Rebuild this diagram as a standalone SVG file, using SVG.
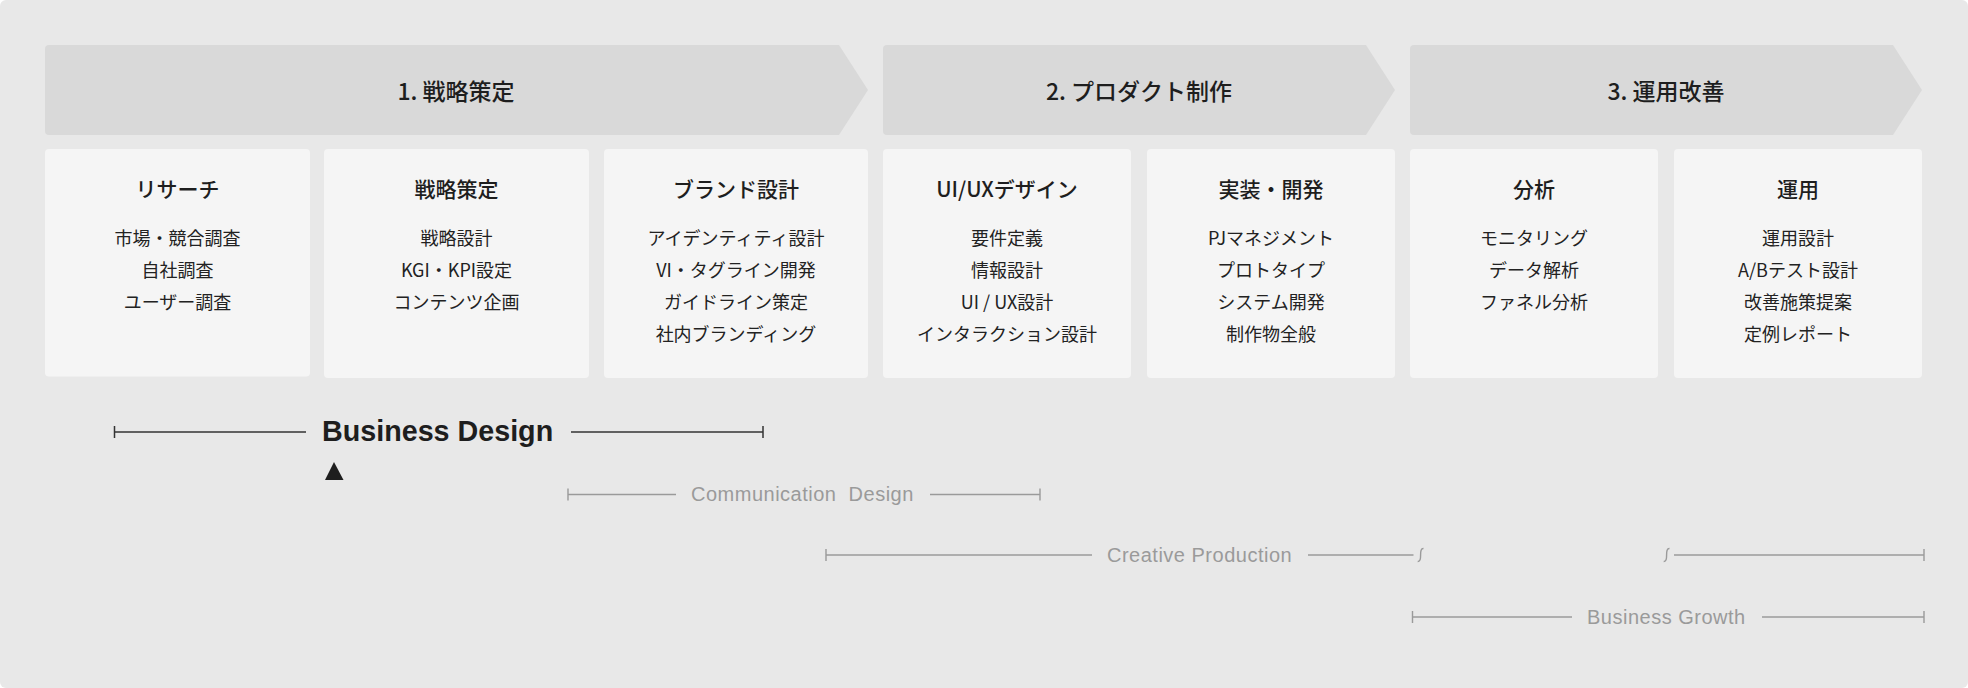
<svg xmlns="http://www.w3.org/2000/svg" width="1968" height="688" viewBox="0 0 1968 688">
  <style>
    .chev { fill: #d9d9d9; }
    .card { fill: #f5f5f5; }
    .ttl { font-family: "Noto Sans CJK JP", "Noto Sans", sans-serif; font-size: 23px; font-weight: 500; fill: #1e1e1e; text-anchor: middle; }
    .hd { font-family: "Noto Sans CJK JP", "Noto Sans", sans-serif; font-size: 21px; font-weight: 500; fill: #1e1e1e; text-anchor: middle; }
    .it { font-family: "Noto Sans CJK JP", "Noto Sans", sans-serif; font-size: 18px; font-weight: 400; fill: #222; text-anchor: middle; }
    .dk { stroke: #333; stroke-width: 1.5; fill: none; }
    .gy { stroke: #9a9a9a; stroke-width: 1.4; fill: none; }
    .bd { font-family: "Liberation Sans", Arial, sans-serif; font-size: 28.7px; font-weight: 700; fill: #1e1e1e; }
    .gl { font-family: "Liberation Sans", Arial, sans-serif; font-size: 20px; letter-spacing: 0.5px; fill: #9a9a9a; }
  </style>
  <rect x="0" y="0" width="1968" height="688" fill="#ffffff"/>
  <rect x="0" y="0" width="1968" height="688" rx="6" fill="#e8e8e8"/>

  <g id="phase1">
    <path class="chev" d="M49,45 H839 L868,90 L839,135 H49 Q45,135 45,131 V49 Q45,45 49,45 Z"/>
    <text class="ttl" x="456" y="100">1. 戦略策定</text>
  </g>
  <g id="phase2">
    <path class="chev" d="M887,45 H1366 L1395,90 L1366,135 H887 Q883,135 883,131 V49 Q883,45 887,45 Z"/>
    <text class="ttl" x="1139" y="100">2. プロダクト制作</text>
  </g>
  <g id="phase3">
    <path class="chev" d="M1414,45 H1893 L1922,90 L1893,135 H1414 Q1410,135 1410,131 V49 Q1410,45 1414,45 Z"/>
    <text class="ttl" x="1666" y="100">3. 運用改善</text>
  </g>

  <g id="card-research">
    <rect class="card" x="45" y="149" width="265" height="227.5" rx="4"/>
    <text class="hd" x="177.5" y="197">リサーチ</text>
    <text class="it" x="177.5" y="245">市場・競合調査</text>
    <text class="it" x="177.5" y="277">自社調査</text>
    <text class="it" x="177.5" y="309">ユーザー調査</text>
  </g>
  <g id="card-strategy">
    <rect class="card" x="324" y="149" width="265" height="229" rx="4"/>
    <text class="hd" x="456.5" y="197">戦略策定</text>
    <text class="it" x="456.5" y="245">戦略設計</text>
    <text class="it" x="456.5" y="277">KGI・KPI設定</text>
    <text class="it" x="456.5" y="309">コンテンツ企画</text>
  </g>
  <g id="card-brand">
    <rect class="card" x="604" y="149" width="264" height="229" rx="4"/>
    <text class="hd" x="736" y="197">ブランド設計</text>
    <text class="it" x="736" y="245">アイデンティティ設計</text>
    <text class="it" x="736" y="277">VI・タグライン開発</text>
    <text class="it" x="736" y="309">ガイドライン策定</text>
    <text class="it" x="736" y="341">社内ブランディング</text>
  </g>
  <g id="card-uiux">
    <rect class="card" x="883" y="149" width="248" height="229" rx="4"/>
    <text class="hd" x="1007" y="197">UI/UXデザイン</text>
    <text class="it" x="1007" y="245">要件定義</text>
    <text class="it" x="1007" y="277">情報設計</text>
    <text class="it" x="1007" y="309">UI / UX設計</text>
    <text class="it" x="1007" y="341">インタラクション設計</text>
  </g>
  <g id="card-dev">
    <rect class="card" x="1147" y="149" width="248" height="229" rx="4"/>
    <text class="hd" x="1271" y="197">実装・開発</text>
    <text class="it" x="1271" y="245">PJマネジメント</text>
    <text class="it" x="1271" y="277">プロトタイプ</text>
    <text class="it" x="1271" y="309">システム開発</text>
    <text class="it" x="1271" y="341">制作物全般</text>
  </g>
  <g id="card-analysis">
    <rect class="card" x="1410" y="149" width="248" height="229" rx="4"/>
    <text class="hd" x="1534" y="197">分析</text>
    <text class="it" x="1534" y="245">モニタリング</text>
    <text class="it" x="1534" y="277">データ解析</text>
    <text class="it" x="1534" y="309">ファネル分析</text>
  </g>
  <g id="card-ops">
    <rect class="card" x="1674" y="149" width="248" height="229" rx="4"/>
    <text class="hd" x="1798" y="197">運用</text>
    <text class="it" x="1798" y="245">運用設計</text>
    <text class="it" x="1798" y="277">A/Bテスト設計</text>
    <text class="it" x="1798" y="309">改善施策提案</text>
    <text class="it" x="1798" y="341">定例レポート</text>
  </g>

  <g id="connectors">
    <!-- Business Design -->
    <path class="dk" d="M114.5,426 V438 M114.5,432 H306 M571,432 H763 M763,426 V438"/>
    <!-- Communication Design -->
    <path class="gy" d="M568,488.5 V500.5 M568,494.5 H676 M930,494.5 H1040 M1040,488.5 V500.5"/>
    <!-- Creative Production -->
    <path class="gy" d="M826,549 V561 M826,555 H1092 M1308,555 H1413.5 M1674,555 H1924 M1924,549 V561"/>
    <path class="gy" d="M1423.5,548.5 C1421,548.3 1420.6,551 1420.6,555 C1420.6,559 1420.2,561.7 1417.7,561.5"/>
    <path class="gy" d="M1669.5,548.5 C1667,548.3 1666.6,551 1666.6,555 C1666.6,559 1666.2,561.7 1663.7,561.5"/>
    <!-- Business Growth -->
    <path class="gy" d="M1412.5,611 V623 M1412.5,617 H1572 M1762,617 H1924 M1924,611 V623"/>
  </g>

  <g id="label-business-design">
    <text class="bd" x="322" y="441">Business Design</text>
    <polygon points="334,462 325,480 343.5,480" fill="#1e1e1e"/>
  </g>
  <g id="label-communication-design">
    <text class="gl" x="691" y="501">Communication&#160; Design</text>
  </g>
  <g id="label-creative-production">
    <text class="gl" x="1107" y="562">Creative Production</text>
  </g>
  <g id="label-business-growth">
    <text class="gl" x="1587" y="624">Business Growth</text>
  </g>
</svg>
